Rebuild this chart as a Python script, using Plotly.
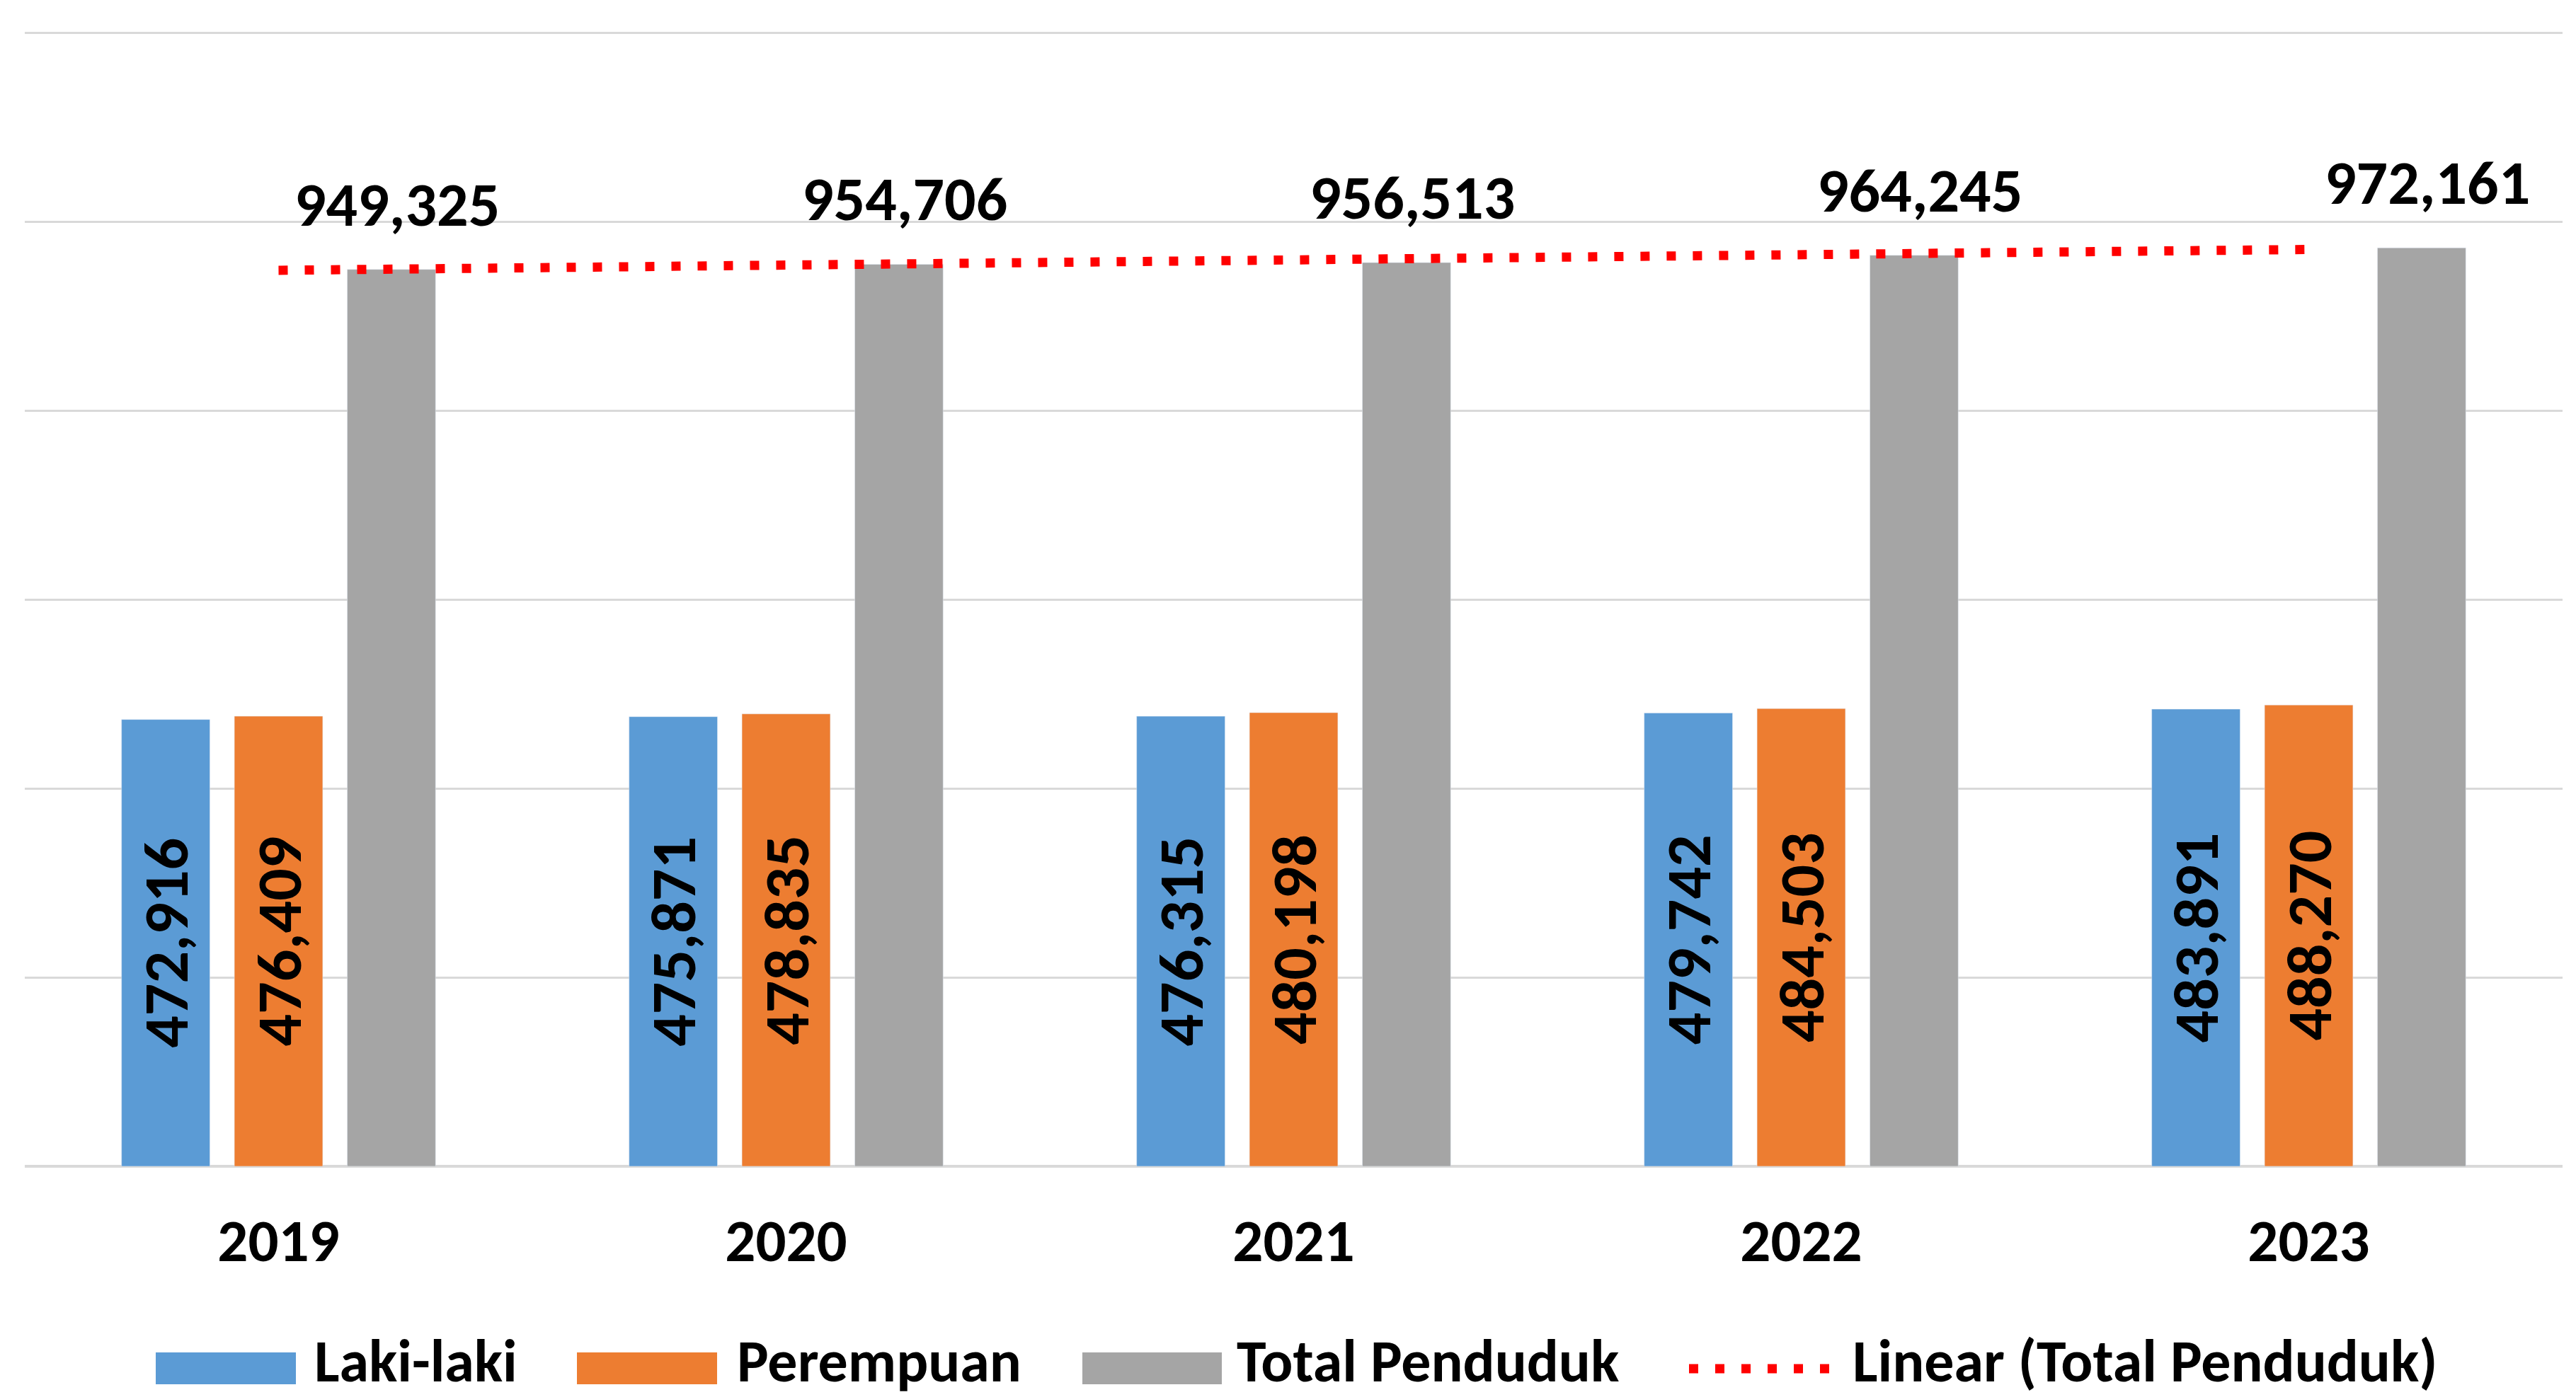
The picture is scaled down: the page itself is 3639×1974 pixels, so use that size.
import numpy as np
import plotly.graph_objects as go

# ---- data ----
years = ["2019", "2020", "2021", "2022", "2023"]
laki_laki = [472916, 475871, 476315, 479742, 483891]
perempuan = [476409, 478835, 480198, 484503, 488270]
total_penduduk = [949325, 954706, 956513, 964245, 972161]
series_names = ["Laki-laki", "Perempuan", "Total Penduduk", "Linear (Total Penduduk)"]

# linear trendline (like Excel's "Linear" trendline) computed from the totals
idx = np.arange(len(years))
coef = np.polyfit(idx, total_penduduk, 1)
trend = np.polyval(coef, idx)

# ---- layout constants ----
W, H = 3639, 1974
ML, MR, MT, MB = 35, 19, 42, 326
Y_MAX = 1203000
BARGAP = 0.333
BARGROUPGAP = 0.217
FONT = "Carlito, Lato, 'Open Sans', sans-serif"
BLUE, ORANGE, GRAY, RED = "#5B9BD5", "#ED7D31", "#A5A5A5", "#FF0000"

plot_w = W - ML - MR
plot_h = H - MT - MB
slot = plot_w / len(years) * (1 - BARGAP) / 3


def px(xp):
    return (xp - ML) / plot_w


def py(yp):
    return (H - MB - yp) / plot_h


fig = go.Figure()

label_font = dict(family=FONT, size=90, color="black", weight="bold")

fig.add_trace(go.Bar(
    x=years, y=laki_laki, name=series_names[0], marker_color=BLUE,
    text=[f"{v:,}" for v in laki_laki], textposition="inside", textangle=-90,
    insidetextanchor="middle", textfont=label_font, constraintext="none",
    showlegend=False,
))
fig.add_trace(go.Bar(
    x=years, y=perempuan, name=series_names[1], marker_color=ORANGE,
    text=[f"{v:,}" for v in perempuan], textposition="inside", textangle=-90,
    insidetextanchor="middle", textfont=label_font, constraintext="none",
    showlegend=False,
))
fig.add_trace(go.Bar(
    x=years, y=total_penduduk, name=series_names[2], marker_color=GRAY,
    showlegend=False,
))
fig.add_trace(go.Scatter(
    x=years, y=trend, name=series_names[3], mode="lines",
    line=dict(color=RED, width=13, dash="13px,24px"),
    showlegend=False,
))

# labels above the total bars (x given as category index)
for i, v in enumerate(total_penduduk):
    fig.add_annotation(
        x=i, y=v, xref="x", yref="y", text=f"{v:,}", showarrow=False,
        xanchor="center", yanchor="bottom", xshift=slot + 8, yshift=36,
        font=dict(family=FONT, size=88, color="black", weight="bold"),
    )

# ---- custom legend (wide swatches like the original) ----
leg_y0, leg_y1 = 1911, 1956
leg_mid = 1923
swatches = [(220, 418, BLUE, 442), (815, 1013, ORANGE, 1039), (1529, 1726, GRAY, 1745)]
for (x0, x1, col, tx), name in zip(swatches, series_names[:3]):
    fig.add_shape(type="rect", xref="paper", yref="paper",
                  x0=px(x0), x1=px(x1), y0=py(leg_y1), y1=py(leg_y0),
                  fillcolor=col, line_width=0, layer="above")
    fig.add_annotation(x=px(tx), y=py(leg_mid), xref="paper", yref="paper",
                       text=name, showarrow=False, xanchor="left", yanchor="middle",
                       font=dict(family=FONT, size=84, color="black", weight="bold"))
fig.add_shape(type="line", xref="paper", yref="paper",
              x0=px(2386), x1=px(2600), y0=py(1934), y1=py(1934),
              line=dict(color=RED, width=13, dash="13px,24px"), layer="above")
fig.add_annotation(x=px(2615), y=py(leg_mid), xref="paper", yref="paper",
                   text=series_names[3], showarrow=False, xanchor="left", yanchor="middle",
                   font=dict(family=FONT, size=84, color="black", weight="bold"))

fig.update_layout(
    width=W, height=H,
    margin=dict(l=ML, r=MR, t=MT, b=MB, autoexpand=False),
    barmode="group", bargap=BARGAP, bargroupgap=BARGROUPGAP,
    plot_bgcolor="white", paper_bgcolor="white",
    showlegend=False,
    font=dict(family=FONT, color="black"),
)
fig.update_xaxes(
    type="category", range=[-0.5, len(years) - 0.5],
    showgrid=False, showline=False, ticks="",
    tickfont=dict(family=FONT, size=85, color="black", weight="bold"),
    ticklabelstandoff=48, automargin=False,
)
fig.update_yaxes(
    range=[0, Y_MAX], dtick=200000, showticklabels=False,
    showgrid=True, gridcolor="#D9D9D9", gridwidth=3,
    zeroline=True, zerolinecolor="#D9D9D9", zerolinewidth=4,
    automargin=False,
)

fig.write_html("out.html")
